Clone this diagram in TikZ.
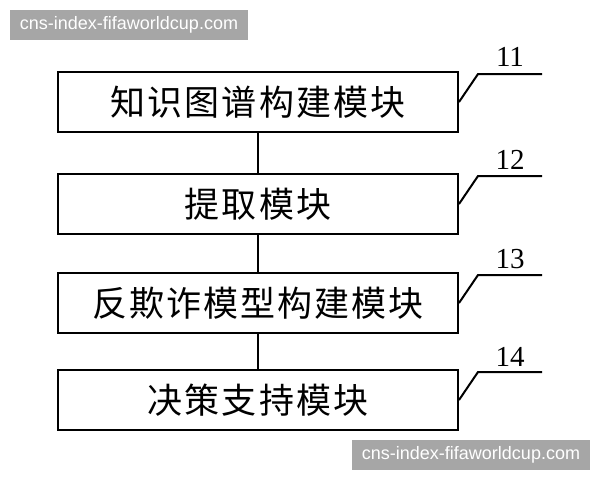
\documentclass[tikz,border=0pt]{standalone}
\usepackage{fontspec}
\setmainfont{Liberation Serif}
\newfontfamily\cjk[LetterSpace=6]{Noto Sans CJK SC}
\newfontfamily\wmfont{Liberation Sans}
\usetikzlibrary{arrows,positioning,calc}

\begin{document}
\begin{tikzpicture}[
			x = 1pt, y = -1pt,
			mid/.style={-,line width=2pt},
			lead/.style={-,line width=2pt},
		module/.style={rectangle,draw=black,line width=2pt,minimum width=400pt,minimum height=60pt,inner sep=0pt,font=\cjk\fontsize{35}{40}\selectfont},
		num/.style={inner sep=0pt,font=\fontsize{29}{32}\selectfont},
		stamp/.style={fill=black!35,text=white,inner sep=0pt,minimum height=30pt,font=\wmfont\fontsize{18}{20}\selectfont}]

		\useasboundingbox (0,0) rectangle (600,480);

		\node[module]  (M1) at (258,102) {知识图谱构建模块};
		\node[module]  (M2) at (258,204) {提取模块}
		edge [mid] (M1);
		\node[module]  (M3) at (258,303) {反欺诈模型构建模块}
		edge [mid] (M2);
		\node[module]  (M4) at (258,400) {决策支持模块}
		edge [mid] (M3);

		% reference numbers
		\coordinate (K1) at (478,74);  \coordinate (E1) at (542,74);
		\coordinate (K2) at (478,176); \coordinate (E2) at (542,176);
		\coordinate (K3) at (478,275); \coordinate (E3) at (542,275);
		\coordinate (K4) at (478,372); \coordinate (E4) at (542,372);
		\node[num] (N1) at (510,57) {11};
		\node[num] (N2) at (510,160) {12};
		\node[num] (N3) at (510,259) {13};
		\node[num] (N4) at (510,357) {14};
		\draw[lead] (M1.east) -- (K1) -- (E1);
		\draw[lead] (M2.east) -- (K2) -- (E2);
		\draw[lead] (M3.east) -- (K3) -- (E3);
		\draw[lead] (M4.east) -- (K4) -- (E4);

		\node[stamp, minimum width=238pt] (W1) at (129,25) {cns-index-fifaworldcup.com};
		\node[stamp, minimum width=238pt] (W2) at (471,455) {cns-index-fifaworldcup.com};
	\end{tikzpicture}
\end{document}
